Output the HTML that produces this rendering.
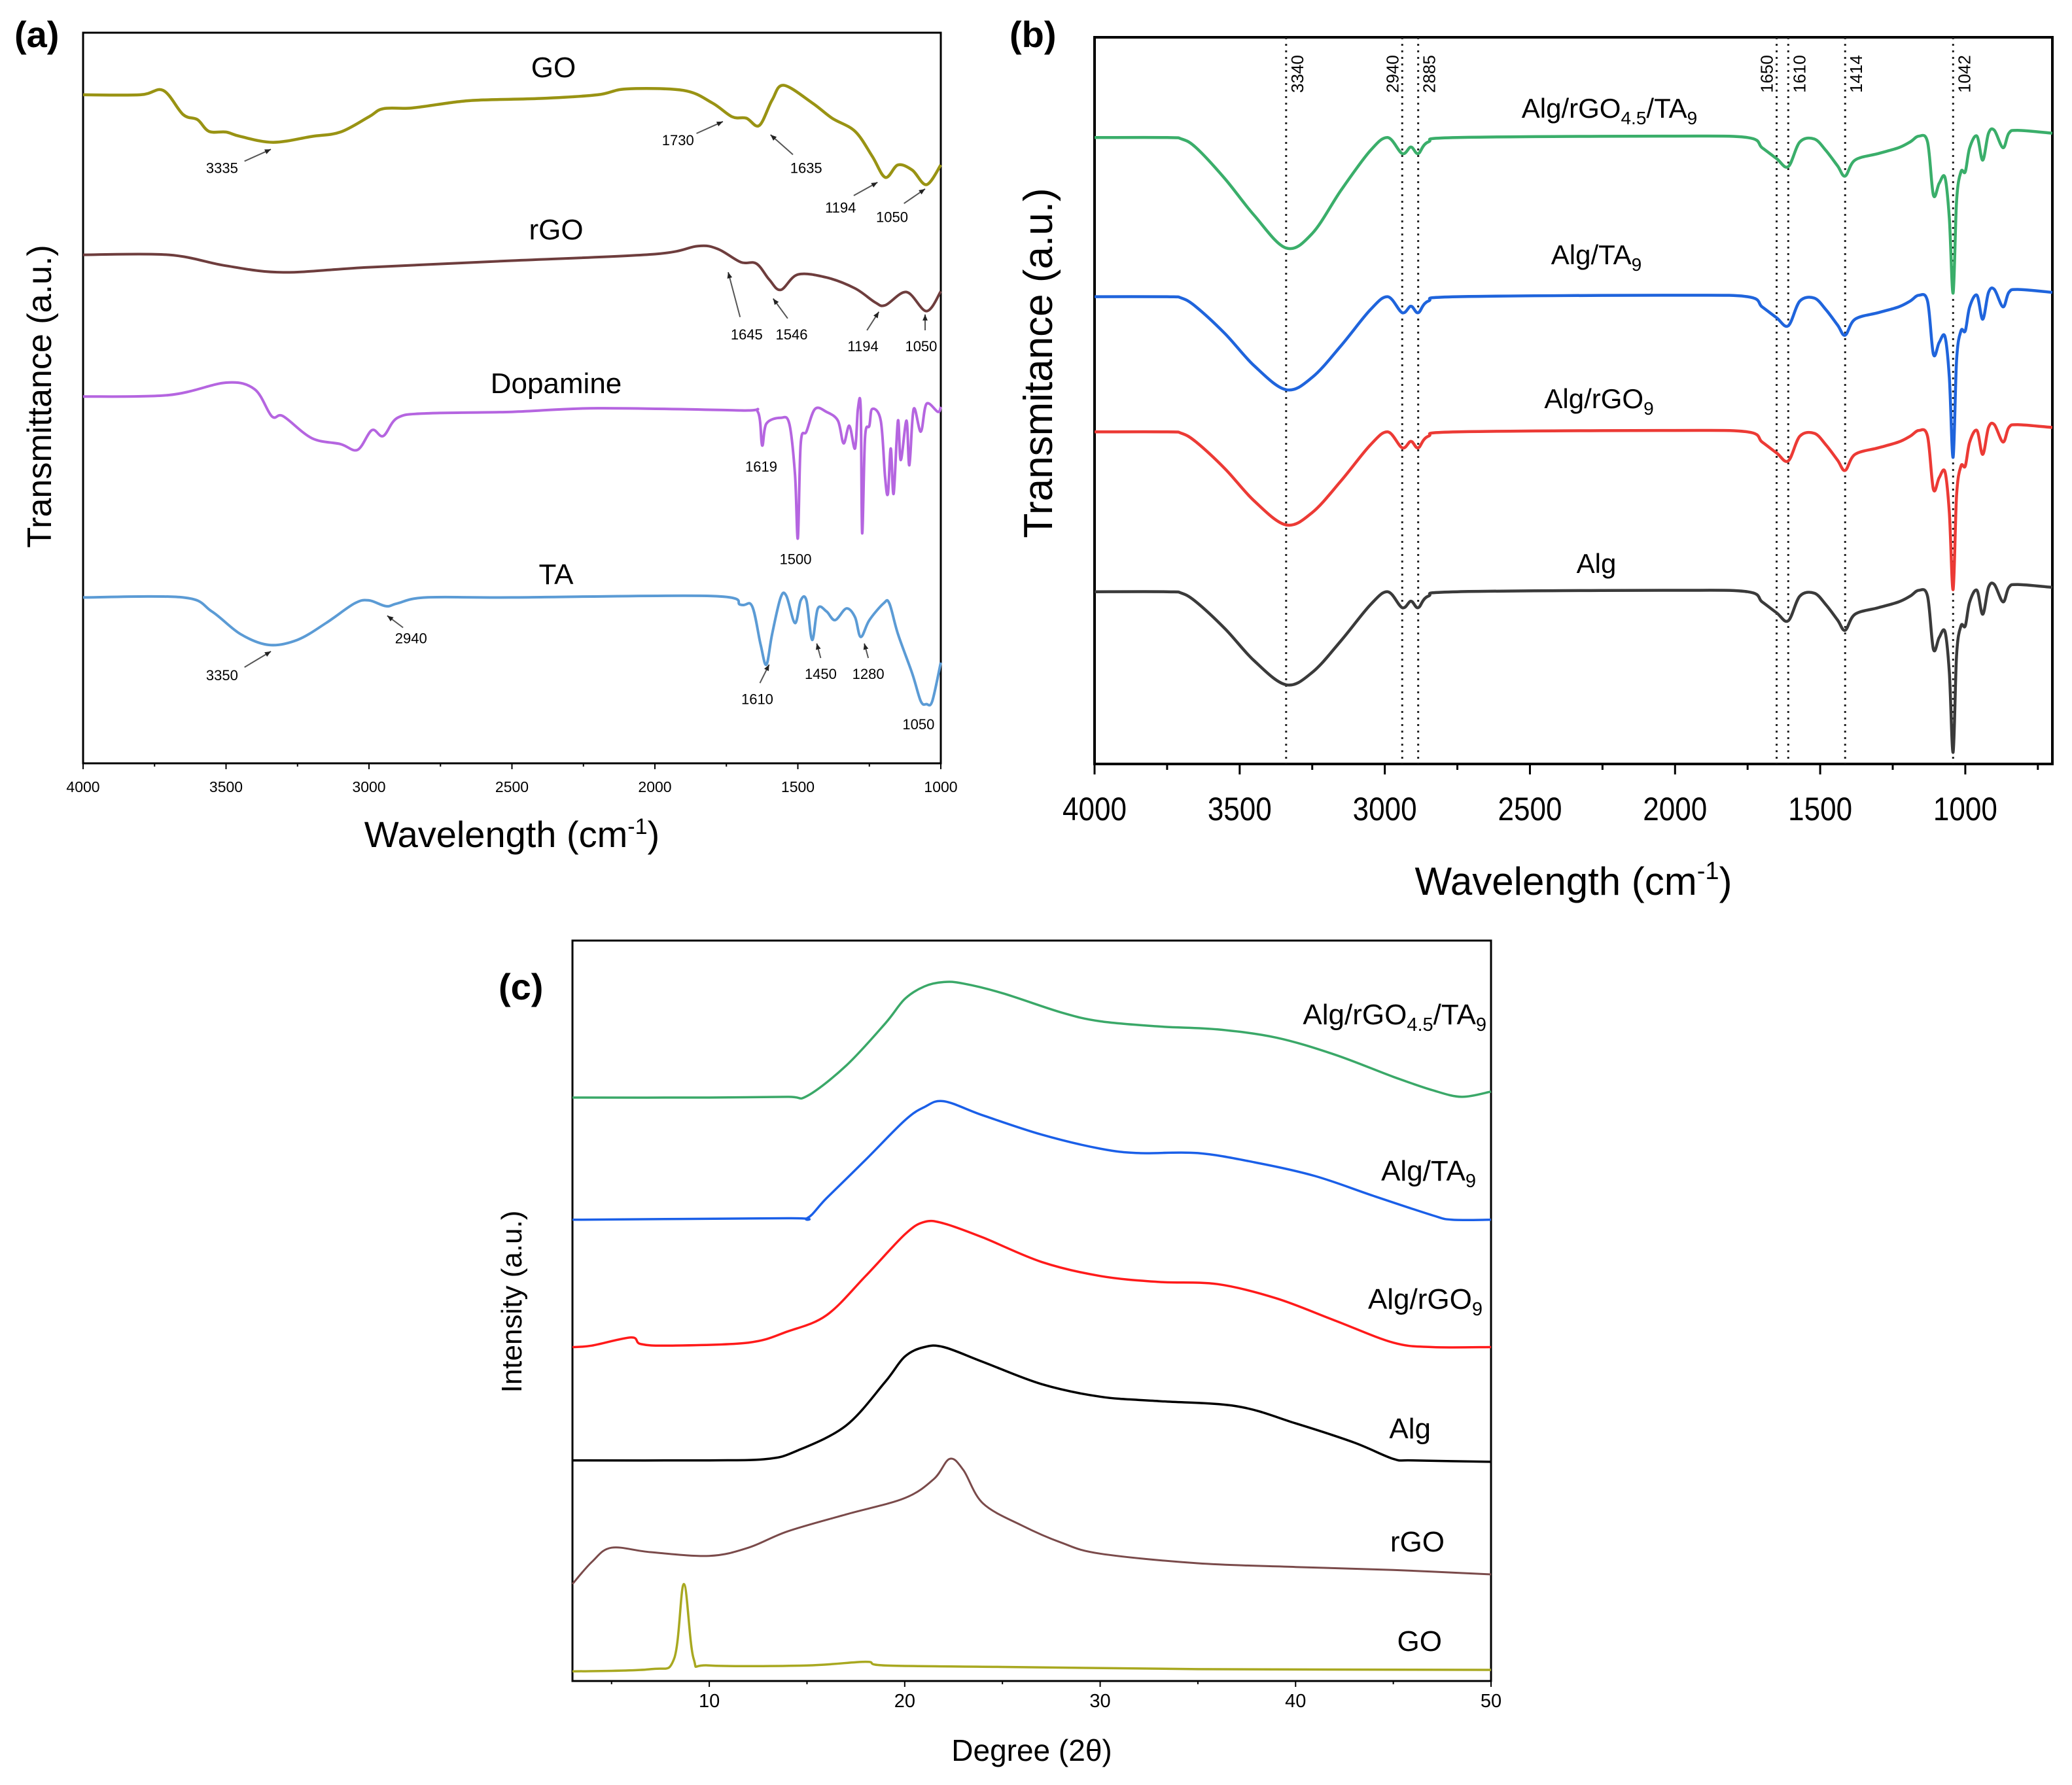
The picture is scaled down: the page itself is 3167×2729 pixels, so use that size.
<!DOCTYPE html>
<html><head><meta charset="utf-8">
<style>
html,body{margin:0;padding:0;background:#fff;}
svg{display:block;font-family:"Liberation Sans",Arial,sans-serif;}
</style></head>
<body>
<svg id="fig" width="3167" height="2729" viewBox="0 0 3167 2729" xmlns="http://www.w3.org/2000/svg">
<rect width="3167" height="2729" fill="#fff"/>
</svg>
<script>
// ---------- Panel (a) FTIR data ----------
const aGOx=[4000,3800,3720,3650,3600,3560,3500,3450,3335,3200,3100,3000,2950,2850,2700,2600,2400,2200,2100,1900,1800,1730,1680,1635,1590,1550,1450,1380,1300,1240,1194,1150,1100,1050,1000];
const aGOy=[91.5,91.5,92.1,88.8,88.1,86.5,86.4,85.8,85.0,85.8,86.4,88.5,89.6,89.7,90.5,90.8,91.0,91.5,92.3,92.1,90.4,88.5,88.3,87.3,90.8,92.8,90.4,88.3,86.5,83.1,80.2,81.9,81.2,79.2,81.9];
const aRGOx=[4000,3700,3500,3300,3000,2500,2000,1850,1780,1700,1645,1600,1560,1500,1400,1300,1230,1194,1120,1050,1000];
const aRGOy=[69.6,69.6,68.1,67.2,67.9,68.8,69.7,70.8,70.4,68.6,68.4,66.2,64.8,66.9,66.5,65.0,63.1,62.7,64.5,61.9,64.6];
const aDOPx=[4000,3700,3500,3400,3340,3300,3200,3100,3040,2990,2950,2900,2800,2500,2200,1700,1640,1625,1610,1560,1530,1510,1500,1490,1470,1440,1400,1360,1340,1320,1300,1290,1280,1275,1265,1250,1240,1210,1195,1185,1175,1165,1150,1140,1120,1110,1095,1070,1050,1010,1000];
const aDOPy=[50.2,50.4,52.1,51.2,47.5,47.5,44.5,43.7,42.9,45.6,44.8,47.3,47.9,48.1,48.6,48.3,48.1,43.5,46.5,47.3,46.5,39.6,30.8,43.8,45.4,48.5,48.1,46.9,43.8,46.2,43.1,48.5,48.5,31.5,44.6,46.2,48.5,46.9,39.2,36.9,43.1,36.9,46.9,41.5,46.9,40.8,48.5,45.4,49.2,48.1,48.8];
const aTAx=[4000,3650,3550,3450,3350,3250,3150,3050,3000,2940,2900,2800,2500,1800,1700,1660,1630,1610,1590,1560,1540,1510,1490,1470,1450,1430,1400,1370,1330,1300,1280,1250,1200,1180,1150,1100,1070,1050,1030,1000];
const aTAy=[22.7,22.7,20.8,17.7,16.2,16.9,19.2,21.9,22.3,21.5,21.9,22.7,22.7,22.9,21.7,21.5,16.2,13.5,17.7,22.7,22.9,19.2,22.3,22.3,16.9,21.2,20.8,19.6,21.2,20.0,17.3,19.6,21.9,21.9,17.7,12.3,8.5,8.1,8.5,13.8];
const aTicks=[4000,3500,3000,2500,2000,1500,1000];

// ---------- Panel (b) FTIR data ----------
const bX=[4000,3750,3700,3650,3550,3450,3340,3250,3150,3050,2990,2940,2910,2885,2850,2750,2000,1750,1700,1650,1610,1570,1520,1480,1440,1414,1380,1300,1230,1190,1160,1130,1110,1090,1070,1055,1042,1030,1015,1000,985,960,940,920,900,870,850,820,700];
const bAlg=[23.7,23.7,23.5,22.3,18.6,14.2,10.9,12.6,17.0,21.9,23.7,21.5,22.4,21.5,23.1,23.7,23.9,23.7,22.3,20.8,19.7,23.1,23.5,21.9,19.8,18.4,20.6,21.5,22.3,23.1,23.9,23.1,15.8,17.4,18.2,12.6,1.6,15.0,19.0,19.0,22.3,23.9,20.6,24.3,24.7,22.3,24.3,24.7,24.3];
const bRGO=[45.7,45.7,45.5,44.3,40.6,36.2,32.9,34.6,39.0,43.9,45.7,43.5,44.4,43.5,45.1,45.7,45.9,45.7,44.3,42.8,41.7,45.1,45.5,43.9,41.8,40.4,42.6,43.5,44.3,45.1,45.9,45.1,37.8,39.4,40.2,34.6,24.0,37.0,41.0,41.0,44.3,45.9,42.6,46.3,46.7,44.3,46.3,46.7,46.3];
const bTA=[64.3,64.3,64.1,62.9,59.2,54.8,51.5,53.2,57.6,62.5,64.3,62.1,63.0,62.1,63.7,64.3,64.5,64.3,62.9,61.4,60.3,63.7,64.1,62.5,60.4,59.0,61.2,62.1,62.9,63.7,64.5,63.7,56.4,58.0,58.8,53.2,42.2,55.6,59.6,59.6,62.9,64.5,61.2,64.9,65.3,62.9,64.9,65.3,64.9];
const bMix=[86.2,86.2,86.0,84.8,80.5,75.5,71.0,73.0,79.0,84.4,86.2,84.0,84.9,84.0,85.6,86.2,86.4,86.2,84.8,83.3,82.2,85.6,86.0,84.4,82.3,80.9,83.1,84.0,84.8,85.6,86.4,85.6,78.3,79.9,80.7,75.1,64.8,77.5,81.5,81.5,84.8,86.4,83.1,86.8,87.2,84.8,86.8,87.2,86.8];
const bMarkers=[3340,2940,2885,1650,1610,1414,1042];
const bMarkerSide=[1,-1,1,-1,1,1,1];
const bTicks=[4000,3500,3000,2500,2000,1500,1000];

// ---------- Panel (c) XRD data ----------
const cMixX=[3,10,14,15,17,19,20,21,22,23,25,28,30,33,36,39,42,45,47,48.5,50];
const cMixY=[78.8,78.8,78.9,79.0,83.1,88.8,92.1,93.8,94.4,94.2,92.9,90.3,89.1,88.4,88.0,86.9,84.6,81.6,79.8,78.9,79.6];
const cTAX=[3,14,15,16,18,20,21,22,24,27,30,32,35,38,41,44,47,48,50];
const cTAY=[62.3,62.5,62.5,65.2,70.4,75.7,77.5,78.3,76.4,73.8,71.9,71.3,71.3,70.0,68.2,65.5,62.9,62.3,62.3];
const cRGOX=[3,4,6,6.5,8,12,14,16,18,20,21,22,24,27,30,33,36,39,42,45,47,50];
const cRGOY=[45.1,45.3,46.4,45.5,45.3,45.7,47.2,49.4,54.7,60.3,62.0,61.8,59.9,56.6,54.7,53.9,53.6,51.7,48.7,45.7,45.1,45.1];
const cAlgX=[3,10,13,14.5,17,19,20,21,22,24,27,30,33,37,40,43,45,46,50];
const cAlgY=[29.8,29.8,30.0,31.1,34.5,40.4,43.8,45.1,45.1,43.1,40.1,38.4,37.8,37.1,34.8,32.2,30.0,29.8,29.6];
const cGrX=[3,4,5,7,10,12,14,17,20,21.5,22.3,23,24,26,28,30,35,40,45,50];
const cGrY=[13.1,16.1,18.0,17.4,16.9,18.0,20.2,22.5,24.7,27.3,30.0,28.5,24.0,21.0,18.7,17.2,15.9,15.4,15.0,14.4];
const cGOX=[3,7,8.2,8.7,9.2,10,15,18,19,25,35,50];
const cGOY=[1.3,1.6,3.0,13.1,3.0,2.1,2.1,2.6,2.1,1.9,1.6,1.5];
const cTicks=[10,20,30,40,50];

const NS="http://www.w3.org/2000/svg";
const svg=document.getElementById('fig');
function mk(tag,attrs,parent){const e=document.createElementNS(NS,tag);for(const k in attrs)e.setAttribute(k,attrs[k]);(parent||svg).appendChild(e);return e;}
function lin(d0,d1,r0,r1){return v=>r0+(v-d0)/(d1-d0)*(r1-r0);}
function smoothPath(pts){
  let d='M'+pts[0][0].toFixed(1)+','+pts[0][1].toFixed(1);
  for(let i=0;i<pts.length-1;i++){
    const p0=pts[i-1]||pts[i],p1=pts[i],p2=pts[i+1],p3=pts[i+2]||p2;
    const t=6;
    const c1=[p1[0]+(p2[0]-p0[0])/t,p1[1]+(p2[1]-p0[1])/t];
    const c2=[p2[0]-(p3[0]-p1[0])/t,p2[1]-(p3[1]-p1[1])/t];
    d+='C'+c1[0].toFixed(1)+','+c1[1].toFixed(1)+' '+c2[0].toFixed(1)+','+c2[1].toFixed(1)+' '+p2[0].toFixed(1)+','+p2[1].toFixed(1);
  }
  return d;
}
function series(xs,ys,X,Y,color,w,name){
  const pts=xs.map((x,i)=>[X(x),Y(ys[i])]);
  const p=mk('path',{d:smoothPath(pts),fill:'none',stroke:color,'stroke-width':w,'stroke-linejoin':'round'});
  
  
  return p;
}
function text(x,y,s,size,opts){
  const t=mk('text',Object.assign({x:x,y:y,'font-size':size,fill:'#000'},opts||{}));
  t.innerHTML=s;return t;
}

// ================= Panel (a) =================
{
const L=127,R=1438,T=50,B=1167;
const X=lin(4000,1000,L,R),Y=lin(0,100,B,T);
const g=mk('g',{});


const fr=mk('rect',{x:L,y:T,width:R-L,height:B-T,fill:'none',stroke:'#000','stroke-width':3},g);


for(let v=4000;v>=1000;v-=250){
  const tk=mk('line',{x1:X(v),x2:X(v),y1:B,y2:B+(v%500===0?9:5),stroke:'#000','stroke-width':2},g);
  
  
}
aTicks.forEach(v=>{const t=text(X(v),B+44,v,23,{'text-anchor':'middle'});
  });
series(aGOx,aGOy,X,Y,'#999313',4.5,'panel-a-go-spectrum');
series(aRGOx,aRGOy,X,Y,'#6e3d3d',4,'panel-a-rgo-spectrum');
series(aDOPx,aDOPy,X,Y,'#b565e0',4,'panel-a-dopamine-spectrum');
series(aTAx,aTAy,X,Y,'#5b9bd5',4,'panel-a-ta-spectrum');
[['GO',846,118],['rGO',850,366],['Dopamine',850,601],['TA',850,893]].forEach(a=>{
  const t=text(a[1],a[2],a[0],44,{'text-anchor':'middle'});
  });
const ann=[['3335',168,127,185,122,205,113],['1730',513,106,527,101,547,92],['1635',610,127,600,117,583,102],
 ['1194',636,157,646,148,664,138],['1050',675,164,684,154,700,143],['1645',565,253,560,240,551,206],
 ['1546',599,253,596,241,585,226],['1194',653,262,656,250,665,236],['1050',697,262,700,250,700,238],
 ['1619',576,353,0,0,0,0],['1500',602,423,0,0,0,0],['3350',168,511,185,505,205,493],['2940',311,483,305,475,293,466],
 ['1610',573,529,575,517,582,503],['1450',621,510,621,498,618,487],['1280',657,510,657,498,654,487],['1050',695,548,0,0,0,0]];
const s=2.02;
ann.forEach(a=>{
  const t=text(a[1]*s,a[2]*s+8,a[0],22,{'text-anchor':'middle'});
  
  if(a[3]){
    const x1=a[3]*s,y1=a[4]*s,x2=a[5]*s,y2=a[6]*s;
    const ln=mk('line',{x1:x1,y1:y1,x2:x2,y2:y2,stroke:'#555','stroke-width':2},g);
    
    const ang=Math.atan2(y2-y1,x2-x1),h=10;
    const pts=[[x2,y2],[x2-h*Math.cos(ang-0.4),y2-h*Math.sin(ang-0.4)],[x2-h*Math.cos(ang+0.4),y2-h*Math.sin(ang+0.4)]];
    const hd=mk('polygon',{points:pts.map(p=>p.join(',')).join(' '),fill:'#222'},g);
    
  }
});
const xt=text((L+R)/2,1295,'Wavelength (cm<tspan dy="-20" font-size="34">-1</tspan><tspan dy="20">)</tspan>',56,{'text-anchor':'middle'});

const yt=text(0,0,'Transmittance (a.u.)',52,{'text-anchor':'middle',transform:'translate(78,606) rotate(-90)'});

const pl=text(22,72,'(a)',56,{'font-weight':'bold'});

}

// ================= Panel (b) =================
{
const L=1673,R=3137,T=57,B=1168;
const X=lin(4000,700,L,R),Y=lin(0,100,B,T);
const fr=mk('rect',{x:L,y:T,width:R-L,height:B-T,fill:'none',stroke:'#000','stroke-width':4});

for(let v=4000;v>=750;v-=250){
  const tk=mk('line',{x1:X(v),x2:X(v),y1:B,y2:B+(v%500===0?16:9),stroke:'#000','stroke-width':3});
  
}
bTicks.forEach(v=>{const t=text(X(v),B+86,v,50,{'text-anchor':'middle','textLength':'98',lengthAdjust:'spacingAndGlyphs'});
  });
bMarkers.forEach((v,i)=>{
  const ln=mk('line',{x1:X(v),x2:X(v),y1:T,y2:B,stroke:'#222','stroke-width':3,'stroke-dasharray':'3,7'});
  
  const off=bMarkerSide[i]>0?26:-6;
  const t=text(0,0,v,26,{transform:'translate('+(X(v)+off)+',142) rotate(-90)'});
  
});
series(bX,bMix,X,Y,'#3aae6a',4.5,'panel-b-alg-rgo-ta-spectrum');
series(bX,bTA,X,Y,'#1f64dc',4.5,'panel-b-alg-ta-spectrum');
series(bX,bRGO,X,Y,'#ec3a35',4.5,'panel-b-alg-rgo-spectrum');
series(bX,bAlg,X,Y,'#3a3a3a',4.5,'panel-b-alg-spectrum');
[['Alg/rGO<tspan font-size="28" dy="10">4.5</tspan><tspan dy="-10">/TA</tspan><tspan font-size="28" dy="10">9</tspan>',2460,180],
 ['Alg/TA<tspan font-size="28" dy="10">9</tspan>',2440,404],['Alg/rGO<tspan font-size="28" dy="10">9</tspan>',2444,624],['Alg',2440,876]].forEach(a=>{
  const t=text(a[1],a[2],a[0],42,{'text-anchor':'middle'});
  });
const xt=text((L+R)/2,1368,'Wavelength (cm<tspan dy="-24" font-size="38">-1</tspan><tspan dy="24">)</tspan>',60,{'text-anchor':'middle'});

const yt=text(0,0,'Transmitance (a.u.)',62,{'text-anchor':'middle',transform:'translate(1608,555) rotate(-90)'});

const pl=text(1543,72,'(b)',56,{'font-weight':'bold'});

}

// ================= Panel (c) =================
{
const L=875,R=2279,T=1438,B=2570;
const X=lin(3,50,L,R),Y=lin(0,100,B,T);
const fr=mk('rect',{x:L,y:T,width:R-L,height:B-T,fill:'none',stroke:'#000','stroke-width':3});

for(let v=5;v<=50;v+=5){
  const tk=mk('line',{x1:X(v),x2:X(v),y1:B,y2:B+(v%10===0?9:5),stroke:'#000','stroke-width':2});
  
}
cTicks.forEach(v=>{const t=text(X(v),B+40,v,29,{'text-anchor':'middle'});
  });
series(cMixX,cMixY,X,Y,'#3aa868',3.5,'panel-c-alg-rgo-ta-pattern');
series(cTAX,cTAY,X,Y,'#1a5fe8',3.5,'panel-c-alg-ta-pattern');
series(cRGOX,cRGOY,X,Y,'#ff1a1a',3.5,'panel-c-alg-rgo-pattern');
series(cAlgX,cAlgY,X,Y,'#000',3.5,'panel-c-alg-pattern');
series(cGrX,cGrY,X,Y,'#7a4a4a',3,'panel-c-rgo-pattern');
series(cGOX,cGOY,X,Y,'#a8a820',3.5,'panel-c-go-pattern');
[['Alg/rGO<tspan font-size="29" dy="10">4.5</tspan><tspan dy="-10">/TA</tspan><tspan font-size="29" dy="10">9</tspan>',2272,1566],
 ['Alg/TA<tspan font-size="29" dy="10">9</tspan>',2256,1805],['Alg/rGO<tspan font-size="29" dy="10">9</tspan>',2266,2001],
 ['Alg',2187,2199],['rGO',2208,2372],['GO',2204,2524]].forEach(a=>{
  const t=text(a[1],a[2],a[0],44,{'text-anchor':'end'});
  });
const xt=text((L+R)/2,2692,'Degree (2θ)',46,{'text-anchor':'middle'});

const yt=text(0,0,'Intensity (a.u.)',44,{'text-anchor':'middle',transform:'translate(797,1990) rotate(-90)'});

const pl=text(762,1528,'(c)',56,{'font-weight':'bold'});

}
</script>
</body></html>
